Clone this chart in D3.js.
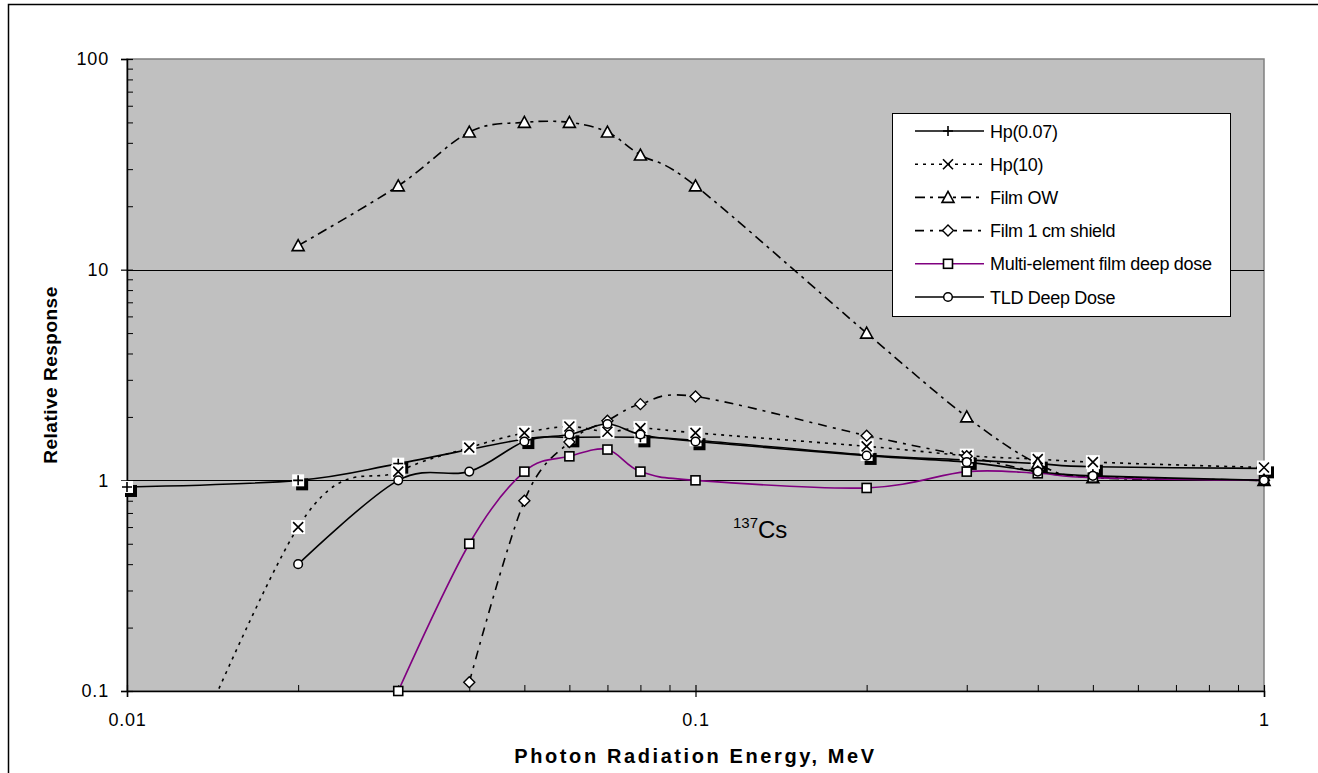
<!DOCTYPE html>
<html><head><meta charset="utf-8">
<script src="https://cdn.jsdelivr.net/npm/d3@7"></script>
<style>
body{margin:0;background:#fff}
svg text{font-family:"Liberation Sans",Arial,sans-serif;fill:#000}
</style>
</head><body><svg id="c" width="1318" height="773"></svg>
<script>
// ---- data ----
const hp007E = [0.01,0.02,0.03,0.05,0.06,0.08,0.1,0.2,0.3,0.4,0.5,1];
const hp007V = [0.93,1.0,1.2,1.57,1.6,1.6,1.55,1.32,1.25,1.2,1.16,1.14];
const hp10E = [0.01,0.02,0.03,0.04,0.05,0.06,0.07,0.08,0.1,0.2,0.3,0.4,0.5,1];
const hp10V = [0.01,0.6,1.1,1.43,1.68,1.8,1.7,1.77,1.68,1.45,1.31,1.26,1.22,1.15];
const filmOWE = [0.02,0.03,0.04,0.05,0.06,0.07,0.08,0.1,0.2,0.3,0.4,0.5,1];
const filmOWV = [13,25,45,50,50,45,35,25,5,2,1.2,1.03,1.0];
const shieldE = [0.04,0.05,0.06,0.07,0.08,0.1,0.2,0.3,0.4,0.5,1];
const shieldV = [0.11,0.8,1.52,1.92,2.3,2.5,1.63,1.3,1.1,1.04,1.0];
const multiE = [0.03,0.04,0.05,0.06,0.07,0.08,0.1,0.2,0.3,0.4,0.5,1];
const multiV = [0.1,0.5,1.1,1.3,1.4,1.1,1.0,0.92,1.1,1.08,1.03,1.0];
const tldE = [0.02,0.03,0.04,0.05,0.06,0.07,0.08,0.1,0.2,0.3,0.4,0.5,1];
const tldV = [0.4,1.0,1.1,1.53,1.65,1.85,1.65,1.53,1.31,1.22,1.1,1.05,1.0];
const seriesNames = ["Hp(0.07)","Hp(10)","Film OW","Film 1 cm shield","Multi-element film deep dose","TLD Deep Dose"];
const xTickLabels = ["0.01","0.1","1"];
const yTickLabels = ["0.1","1","10","100"];
const annotationMain = "Cs", annotationSup = "137";
const xTitle = "Photon Radiation Energy, MeV", yTitle = "Relative Response";

// ---- layout ----
const svg = d3.select("#c");
const L = 127, R = 1264, T = 59, B = 691;
const x = d3.scaleLog().domain([0.01,1]).range([L,R]);
const y = d3.scaleLog().domain([0.1,100]).range([B,T]);

// outer frame
svg.append("rect").attr("x",8.5).attr("y",4.5).attr("width",1320).attr("height",800)
  .attr("fill","none").attr("stroke","#000").attr("stroke-width",1.5);

// plot background
svg.append("rect").attr("x",L).attr("y",T).attr("width",R-L).attr("height",B-T)
  .attr("fill","#c0c0c0").attr("stroke","#808080").attr("stroke-width",1.5);

// gridlines
svg.append("g").selectAll("line").data([1,10]).join("line")
  .attr("x1",L).attr("x2",R).attr("y1",d=>Math.round(y(d))+0.5).attr("y2",d=>Math.round(y(d))+0.5)
  .attr("stroke","#000").attr("stroke-width",1);

// axes
const yMinor = [];
[0.1,1,10].forEach(b=>{for(let k=2;k<=9;k++) yMinor.push(b*k);});
const xMinor = [];
[0.01,0.1].forEach(b=>{for(let k=2;k<=9;k++) xMinor.push(b*k);});

const yAxis = d3.axisLeft(y).tickValues(yTickLabels.map(Number)).tickFormat((d,i)=>yTickLabels[i]).tickSize(6);
const gy = svg.append("g").attr("transform",`translate(${L},0)`).call(yAxis);
gy.select(".domain").attr("stroke","#000").attr("stroke-width",1.5);
gy.selectAll(".tick line").attr("x2",-6).attr("x1",6).attr("stroke","#000").attr("stroke-width",1.2);
gy.selectAll(".tick text").attr("x",-18).attr("font-size",18).attr("letter-spacing","0.8px").attr("font-family","Liberation Sans, Arial, sans-serif");
const gym = svg.append("g").attr("transform",`translate(${L},0)`).call(d3.axisRight(y).tickValues(yMinor).tickSize(6).tickFormat(""));
gym.select(".domain").remove();
gym.selectAll(".tick line").attr("stroke","#000").attr("stroke-width",1);

const xAxis = d3.axisBottom(x).tickValues(xTickLabels.map(Number)).tickFormat((d,i)=>xTickLabels[i]).tickSize(6);
const gx = svg.append("g").attr("transform",`translate(0,${B})`).call(xAxis);
gx.select(".domain").attr("stroke","#000").attr("stroke-width",1.5);
gx.selectAll(".tick line").attr("y1",-6).attr("y2",6).attr("stroke","#000").attr("stroke-width",1.2);
gx.selectAll(".tick text").attr("y",22).attr("font-size",18).attr("letter-spacing","0.8px").attr("font-family","Liberation Sans, Arial, sans-serif");
const gxm = svg.append("g").attr("transform",`translate(0,${B})`).call(d3.axisTop(x).tickValues(xMinor).tickSize(6).tickFormat(""));
gxm.select(".domain").remove();
gxm.selectAll(".tick line").attr("stroke","#000").attr("stroke-width",1);

// titles
svg.append("text").attr("x",x(0.1)).attr("y",763).attr("text-anchor","middle")
  .attr("font-size",20).attr("font-weight","bold").attr("letter-spacing","2.6px").text(xTitle);
svg.append("text").attr("transform",`translate(57,${(T+B)/2}) rotate(-90)`).attr("text-anchor","middle")
  .attr("font-size",19).attr("font-weight","bold").attr("letter-spacing","0.5px").text(yTitle);

// annotation
const ann = svg.append("text").attr("x",733).attr("y",538).attr("font-family","Liberation Serif, Times New Roman, serif");
ann.append("tspan").attr("font-size",15).attr("dy",-10).text(annotationSup);
ann.append("tspan").attr("font-size",24).attr("dy",10).text(annotationMain);

// clip
svg.append("clipPath").attr("id","clip").append("rect").attr("x",L).attr("y",T).attr("width",R-L).attr("height",B-T+1);

// marker painters
function mPlus(g, cx, cy){
  g.append("rect").attr("x",cx-6+4).attr("y",cy-6+4).attr("width",12).attr("height",12).attr("fill","#000");
  g.append("rect").attr("x",cx-6).attr("y",cy-6).attr("width",12).attr("height",12).attr("fill","#fff");
  g.append("path").attr("d",`M${cx-5},${cy}H${cx+5}M${cx},${cy-5}V${cy+5}`).attr("stroke","#000").attr("stroke-width",1.6);
}
function mX(g, cx, cy){
  g.append("rect").attr("x",cx-7).attr("y",cy-7).attr("width",14).attr("height",14).attr("fill","#fff");
  g.append("path").attr("d",`M${cx-5},${cy-5}L${cx+5},${cy+5}M${cx+5},${cy-5}L${cx-5},${cy+5}`).attr("stroke","#000").attr("stroke-width",1.6);
}
function mTri(g, cx, cy){
  g.append("path").attr("d",`M${cx},${cy-6}L${cx+6},${cy+5}L${cx-6},${cy+5}Z`).attr("fill","#fff").attr("stroke","#000").attr("stroke-width",1.6);
}
function mDia(g, cx, cy){
  g.append("path").attr("d",`M${cx},${cy-5.5}L${cx+5.5},${cy}L${cx},${cy+5.5}L${cx-5.5},${cy}Z`).attr("fill","#fff").attr("stroke","#000").attr("stroke-width",1.4);
}
function mSq(g, cx, cy){
  g.append("rect").attr("x",cx-4.5).attr("y",cy-4.5).attr("width",9).attr("height",9).attr("fill","#fff").attr("stroke","#000").attr("stroke-width",1.6);
}
function mCirc(g, cx, cy){
  g.append("circle").attr("cx",cx).attr("cy",cy).attr("r",4.3).attr("fill","#fff").attr("stroke","#000").attr("stroke-width",1.5);
}

const series = [
  {name:seriesNames[0], e:hp007E, v:hp007V, color:"#000", dash:null, marker:mPlus},
  {name:seriesNames[1], e:hp10E, v:hp10V, color:"#000", dash:"3,5", marker:mX},
  {name:seriesNames[2], e:filmOWE, v:filmOWV, color:"#000", dash:"10,5,3,5", marker:mTri},
  {name:seriesNames[3], e:shieldE, v:shieldV, color:"#000", dash:"9,6,3,6", marker:mDia},
  {name:seriesNames[4], e:multiE, v:multiV, color:"#800080", dash:null, marker:mSq},
  {name:seriesNames[5], e:tldE, v:tldV, color:"#000", dash:null, marker:mCirc},
];

const line = d3.line().x(d=>x(d[0])).y(d=>y(d[1])).curve(d3.curveCatmullRom.alpha(0));

series.forEach(s=>{
  const pts = s.e.map((e,i)=>[e,s.v[i]]);
  svg.append("path").attr("clip-path","url(#clip)").datum(pts).attr("d",line)
    .attr("fill","none").attr("stroke",s.color).attr("stroke-width",1.6)
    .attr("stroke-dasharray",s.dash);
  const mg = svg.append("g");
  pts.filter(p=>p[1]>=0.099 && p[1]<=100).forEach(p=>s.marker(mg, x(p[0]), y(p[1])));
});

// legend
const lg = svg.append("g");
const lgTop = 113, lgRow = 33.2;
lg.append("rect").attr("x",892.5).attr("y",lgTop+0.5).attr("width",338).attr("height",203)
  .attr("fill","#fff").attr("stroke","#000").attr("stroke-width",1);
series.forEach((s,i)=>{
  const cy = lgTop + 18 + i*lgRow;
  lg.append("line").attr("x1",915).attr("x2",984).attr("y1",cy).attr("y2",cy)
    .attr("stroke",s.color).attr("stroke-width",1.6).attr("stroke-dasharray",s.dash);
  const mx = 948;
  if (s.marker===mPlus){
    lg.append("path").attr("d",`M${mx-5},${cy}H${mx+5}M${mx},${cy-5}V${cy+5}`).attr("stroke","#000").attr("stroke-width",1.6);
  } else if (s.marker===mX){
    lg.append("path").attr("d",`M${mx-5},${cy-5}L${mx+5},${cy+5}M${mx+5},${cy-5}L${mx-5},${cy+5}`).attr("stroke","#000").attr("stroke-width",1.6);
  } else s.marker(lg,mx,cy);
  lg.append("text").attr("x",990).attr("y",cy+6.5).attr("font-size",18).attr("letter-spacing","-0.3px").text(s.name);
});
</script>
</body></html>
